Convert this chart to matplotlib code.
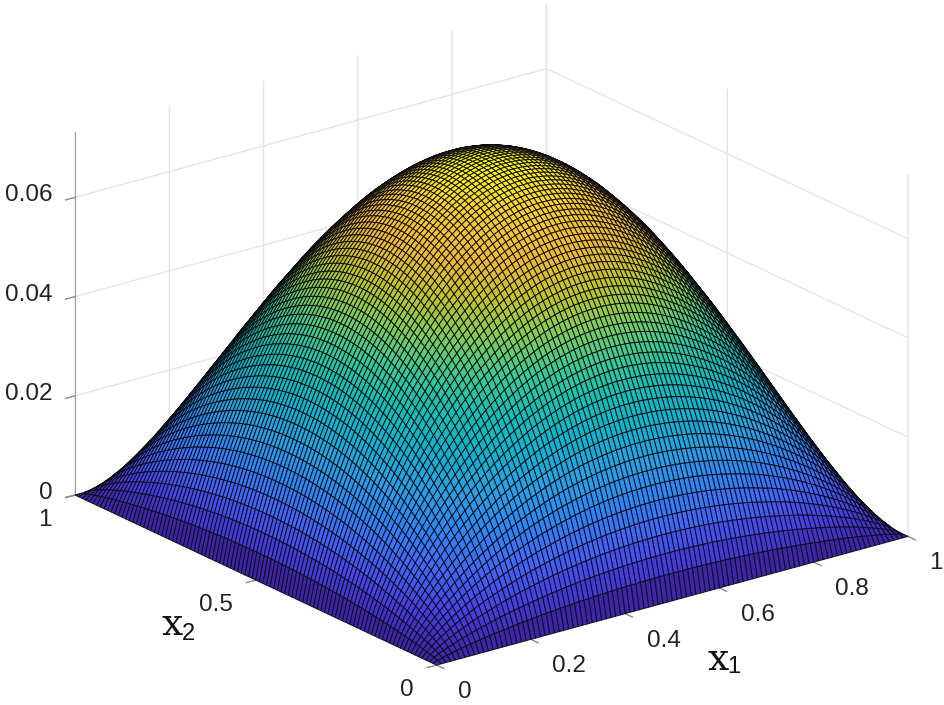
import numpy as np
import matplotlib
matplotlib.use("Agg")
import matplotlib.pyplot as plt
from matplotlib.colors import LinearSegmentedColormap, Normalize
from mpl_toolkits.mplot3d import proj3d

plt.rcParams['font.family'] = ['Liberation Sans', 'DejaVu Sans']

# half of the symmetric cross-section, x = 0 ... 0.5 in steps of 0.01 (relative height)
half_profile = [0.000,0.069,0.121,0.168,0.211,0.252,0.291,0.327,0.362,0.396,0.428,0.459,0.489,
                0.518,0.545,0.572,0.597,0.622,0.646,0.668,0.690,0.712,0.732,0.751,0.770,0.788,
                0.805,0.821,0.836,0.851,0.865,0.879,0.891,0.903,0.914,0.925,0.934,0.944,0.952,
                0.960,0.967,0.973,0.979,0.984,0.988,0.992,0.995,0.997,0.999,1.000,1.000]
peak_value = 0.0728
x1_ticks = [0, 0.2, 0.4, 0.6, 0.8, 1]
x1_labels = ['0', '0.2', '0.4', '0.6', '0.8', '1']
x2_ticks = [0, 0.5, 1]
x2_labels = ['0', '0.5', '1']
z_ticks = [0, 0.02, 0.04, 0.06]
z_labels = ['0', '0.02', '0.04', '0.06']

parula_colors = ['#3e26a8', '#4741e8', '#4367fd', '#2e87f7', '#2ba0e4', '#0fb3ce', '#14bfb5',
                 '#3bc993', '#81cc59', '#c2c32b', '#f0ba36', '#fcce2e', '#f9fb15']
parula = LinearSegmentedColormap.from_list('parula', parula_colors)

profile = np.array(half_profile + half_profile[-2::-1])
axis_x = np.linspace(0, 1, profile.size)
X1, X2 = np.meshgrid(axis_x, axis_x)
Z = peak_value * np.outer(profile, profile)

W, H = 944, 705
fig = plt.figure(figsize=(W / 100, H / 100), dpi=100, facecolor='white')
ax = fig.add_axes([0.1, 0.1, 0.8, 0.8], projection='3d', proj_type='ortho', computed_zorder=False)
ax.view_init(elev=21, azim=-127.3)
ax.set_box_aspect((592, 596, 388))
ax.set_xlim(0, 1, view_margin=0)
ax.set_ylim(0, 1, view_margin=0)
ax.set_zlim(0, 0.0731, view_margin=0)
ax.patch.set_alpha(0)

grid = '#e4e4e4'
for axis in (ax.xaxis, ax.yaxis, ax.zaxis):
    axis.set_pane_color((1, 1, 1, 0))
    axis.pane.set_edgecolor((1, 1, 1, 0))
    axis.line.set_color((1, 1, 1, 0))
    axis._axinfo['grid'].update(color=grid, linewidth=1.0)
    axis._axinfo['tick'].update(inward_factor=0.25, outward_factor=0.0, linewidth={True: 1.0, False: 1.0})
ax.zaxis.line.set_color('#a0a0a0')
ax.set_xticks(x1_ticks, [''] * len(x1_ticks))
ax.set_yticks(x2_ticks, [''] * len(x2_ticks))
ax.set_zticks(z_ticks, [''] * len(z_ticks))
ax.tick_params(axis='both', colors='#8a8a8a')

colors = parula(Normalize(0, peak_value)(Z))
ax.plot_surface(X1, X2, Z, facecolors=colors, rcount=101, ccount=101, shade=False,
                edgecolor=(0.04, 0.03, 0.06, 0.9), linewidth=0.7, antialiased=True, zorder=3)

# fit the projected floor to the reference's canvas position
fig.canvas.draw()
def disp(p):
    x, y, _ = proj3d.proj_transform(*p, ax.get_proj())
    return ax.transData.transform((x, y))
ta, tb = (75, H - 495), (908, H - 536)
for _ in range(3):
    a, b = disp((0, 1, 0)), disp((1, 0, 0))
    scale = (tb[0] - ta[0]) / (b[0] - a[0])
    pos = ax.get_position(original=True).bounds
    px = [pos[0] * W, pos[1] * H, pos[2] * W, pos[3] * H]
    px[0] = ta[0] + (px[0] - a[0]) * scale
    px[1] = ta[1] + (px[1] - a[1]) * scale
    px[2] *= scale
    px[3] *= scale
    side = max(px[2], px[3])
    cx, cy = px[0] + px[2] / 2, px[1] + px[3] / 2
    ax.set_position([(cx - side / 2) / W, (cy - side / 2) / H, side / W, side / H])
    fig.canvas.draw()

def label(point, text, dx, dy, ha, va):
    x, y = disp(point)
    fig.text((x + dx) / W, (y - dy) / H, text, ha=ha, va=va, fontsize=17.5, color='#222222')

for t, s in zip(x1_ticks, x1_labels):
    label((t, 0, 0), s, 21.5, 27, 'left', 'center')
for t, s in zip(x2_ticks, x2_labels):
    label((0, t, 0), s, -23, 25, 'right', 'center')
for t, s in zip(z_ticks, z_labels):
    label((0, 1, t), s, -22, -2, 'right', 'center')

def axis_name(x, y, base, size, family):
    fig.text(x / W, 1 - y / H, base, family=family, fontsize=size, color='#111111')
axis_name(162, 635, 'x', 27, 'DejaVu Serif')
axis_name(182, 640, '2', 17, 'Liberation Sans')
axis_name(707, 670, 'x', 27, 'DejaVu Serif')
axis_name(727, 673, '1', 17, 'Liberation Sans')

fig.savefig('out.png', dpi=100)
print([tuple(np.round(disp(p))) for p in [(0,0,0),(1,1,0),(0,1,0),(1,0,0)]])
